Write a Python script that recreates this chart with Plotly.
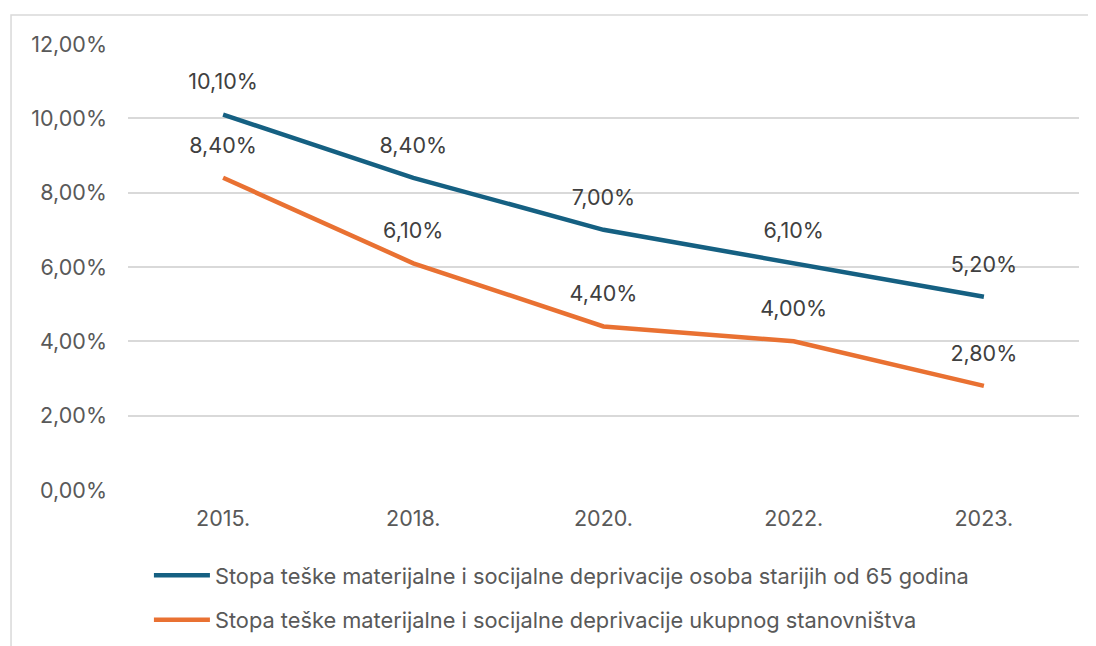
import plotly.graph_objects as go

years = ["2015.", "2018.", "2020.", "2022.", "2023."]
elderly = [10.10, 8.40, 7.00, 6.10, 5.20]
total = [8.40, 6.10, 4.40, 4.00, 2.80]
name_elderly = "Stopa teške materijalne i socijalne deprivacije osoba starijih od 65 godina"
name_total = "Stopa teške materijalne i socijalne deprivacije ukupnog stanovništva"
y_ticks = [0, 2, 4, 6, 8, 10, 12]

BLUE = "#156082"
ORANGE = "#E97132"
FONT = "Inter"
TICK_SIZE = 21.5
LEGEND_SIZE = 21.8

def pct(v):
    return f"{v:.2f}".replace(".", ",") + "%"

fig = go.Figure()
fig.add_trace(go.Scatter(x=years, y=elderly, mode="lines", name=name_elderly,
                         line=dict(color=BLUE, width=4.5), legendgroup="a"))
fig.add_trace(go.Scatter(x=years, y=total, mode="lines", name=name_total,
                         line=dict(color=ORANGE, width=4.5), legendgroup="b"))

# data labels (text placed above invisible markers to get the offset)
for series in (elderly, total):
    fig.add_trace(go.Scatter(x=years, y=series, mode="markers+text",
                             text=[pct(v) for v in series], textposition="top center",
                             textfont=dict(family=FONT, size=TICK_SIZE, color="#404040"),
                             marker=dict(size=30, color="rgba(0,0,0,0)"),
                             showlegend=False, hoverinfo="skip", cliponaxis=False))

# outer chart border (partially visible)
fig.add_shape(type="rect", xref="paper", yref="paper", x0=-0.123, x1=1.2, y0=-0.6, y1=1.065,
              line=dict(color="#D9D9D9", width=1.5), fillcolor="rgba(0,0,0,0)", layer="below")

fig.update_layout(
    width=1088, height=680,
    margin=dict(l=120, r=17, t=36, b=198),
    paper_bgcolor="white", plot_bgcolor="white",
    font=dict(family=FONT, size=TICK_SIZE, color="#595959"),
    showlegend=True,
    legend=dict(orientation="v", x=0.022, xanchor="left", y=-0.145, yanchor="top",
                font=dict(family=FONT, size=LEGEND_SIZE, color="#595959"),
                tracegroupgap=13, itemwidth=56, bgcolor="rgba(0,0,0,0)"),
    xaxis=dict(type="category", range=[-0.5, 4.5], showgrid=False, showline=False,
               automargin=False, ticks="", ticklabelstandoff=13,
               tickfont=dict(size=TICK_SIZE, color="#595959")),
    yaxis=dict(range=[0, 12], tickvals=y_ticks, ticktext=[pct(v) for v in y_ticks],
               showgrid=True, gridcolor="#D9D9D9", gridwidth=1.5, zeroline=False,
               showline=False, automargin=False, ticks="", ticklabelstandoff=20,
               tickfont=dict(size=TICK_SIZE, color="#595959")),
)

fig.write_html("out.html")
